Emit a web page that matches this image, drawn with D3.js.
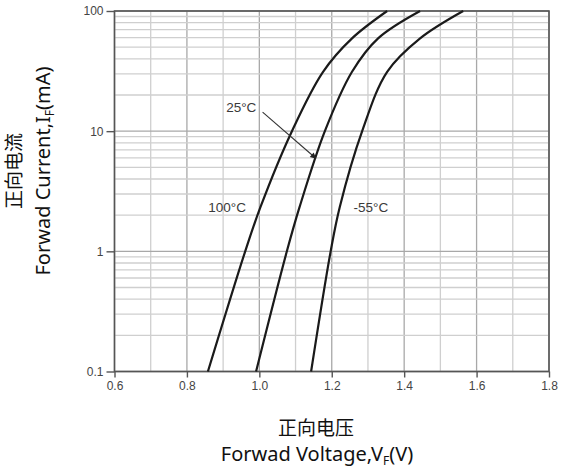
<!DOCTYPE html>
<html>
<head>
<meta charset="utf-8">
<script src="https://cdn.jsdelivr.net/npm/d3@7"></script>
<style>
body{margin:0;background:#fff;}
svg{display:block;}
.tick text{font-family:"Liberation Sans",Arial,sans-serif;font-size:12px;fill:#444;}
</style>
</head>
<body>
<div id="content"></div>
<script>
// data
const voltTicks = [0.6, 0.8, 1.0, 1.2, 1.4, 1.6, 1.8];
const currentTicks = [0.1, 1, 10, 100];
const current = [0.1, 1, 2.33, 10, 31.2, 59.2, 100];
const v100 = [0.858, 0.961, 1.003, 1.090, 1.176, 1.256, 1.353];
const v25 = [0.991, 1.076, 1.111, 1.181, 1.256, 1.328, 1.444];
const vm55 = [1.143, 1.197, 1.222, 1.284, 1.353, 1.444, 1.563];
const curveNames = ["100°C", "25°C", "-55°C"];

const w = 561, h = 471;
const padL = 114.5, padR = 549, padT = 11, padB = 371.5;

const svg = d3.select("#content").append("svg").attr("width", w).attr("height", h);

const xScale = d3.scaleLinear().domain([0.6, 1.8]).range([padL, padR]);
const yScale = d3.scaleLog().domain([0.1, 100]).range([padB, padT]);

// grid
const vGrid = d3.range(0.6, 1.8001, 0.1).map(d => +d.toFixed(2));
svg.append("g").selectAll("line").data(vGrid).enter().append("line")
  .attr("x1", d => xScale(d)).attr("x2", d => xScale(d))
  .attr("y1", padT).attr("y2", padB)
  .attr("stroke", (d, i) => i % 2 == 0 ? "#a8a8a8" : "#cfcfcf")
  .attr("stroke-width", 1.3);

let hGrid = [];
[0.1, 1, 10].forEach(dec => { for (let k = 1; k < 10; k++) hGrid.push(dec * k); });
hGrid.push(100);
svg.append("g").selectAll("line").data(hGrid).enter().append("line")
  .attr("x1", padL).attr("x2", padR)
  .attr("y1", d => yScale(d)).attr("y2", d => yScale(d))
  .attr("stroke", d => currentTicks.includes(+d.toPrecision(3)) ? "#a8a8a8" : "#cfcfcf")
  .attr("stroke-width", 1.3);

// frame
svg.append("rect").attr("x", padL).attr("y", padT)
  .attr("width", padR - padL).attr("height", padB - padT)
  .attr("fill", "none").attr("stroke", "#555").attr("stroke-width", 1.6);

// axes
const xAxis = d3.axisBottom(xScale).tickValues(voltTicks).tickSize(6).tickPadding(4).tickFormat(d3.format(".1f"));
const yAxis = d3.axisLeft(yScale).tickValues(currentTicks).tickSize(8).tickPadding(3).tickFormat(d => d);

svg.append("g").attr("transform", `translate(0,${padB})`).call(xAxis)
  .call(g => g.select(".domain").remove())
  .call(g => g.selectAll(".tick line").attr("stroke", "#555").attr("stroke-width", 1.4));
svg.append("g").attr("transform", `translate(${padL},0)`).call(yAxis)
  .call(g => g.select(".domain").remove())
  .call(g => g.selectAll(".tick line").attr("stroke", "#555").attr("stroke-width", 1.4));

// curves
const line = d3.line()
  .x(d => xScale(d[0])).y(d => yScale(d[1]))
  .curve(d3.curveCatmullRom.alpha(0.5));

[v100, v25, vm55].forEach(vs => {
  svg.append("path")
    .datum(vs.map((v, i) => [v, current[i]]))
    .attr("d", line)
    .attr("fill", "none").attr("stroke", "#1a1a1a").attr("stroke-width", 2.2);
});

// labels
const labelPos = [[0.911, 2.33], [0.95, 15.8], [1.308, 2.33]];
svg.append("g").selectAll("text").data(curveNames).enter().append("text")
  .attr("x", (d, i) => xScale(labelPos[i][0]))
  .attr("y", (d, i) => yScale(labelPos[i][1]) + 5)
  .attr("text-anchor", "middle")
  .style("font-family", "'Liberation Sans',Arial,sans-serif")
  .style("font-size", "13.5px").style("fill", "#3a3a3a")
  .text(d => d);

// arrow for 25°C
svg.append("defs").append("marker").attr("id", "arr")
  .attr("viewBox", "0 0 10 10").attr("refX", 9).attr("refY", 5)
  .attr("markerWidth", 8).attr("markerHeight", 6).attr("orient", "auto")
  .attr("markerUnits", "userSpaceOnUse")
  .append("path").attr("d", "M0,0L10,5L0,10z").attr("fill", "#222");
svg.append("line")
  .attr("x1", xScale(1.009)).attr("y1", yScale(14.4))
  .attr("x2", xScale(1.156)).attr("y2", yScale(5.95))
  .attr("stroke", "#333").attr("stroke-width", 1.1)
  .attr("marker-end", "url(#arr)");

// axis titles
const titleFont = "'Noto Sans','Noto Sans CJK SC',sans-serif";
svg.append("text").attr("text-anchor", "middle").attr("x", 316).attr("y", 435)
  .style("font-family", titleFont).style("font-size", "19px").style("fill", "#111")
  .text("正向电压");
const xt2 = svg.append("text").attr("text-anchor", "middle").attr("x", 317).attr("y", 461)
  .style("font-family", titleFont).style("font-size", "20px").style("fill", "#111");
xt2.append("tspan").text("Forwad Voltage,V");
xt2.append("tspan").attr("dy", 4).style("font-size", "12px").text("F");
xt2.append("tspan").attr("dy", -4).text("(V)");

const yt = svg.append("text").attr("text-anchor", "middle")
  .attr("transform", "translate(0,171) rotate(-90)")
  .style("font-family", titleFont).style("font-size", "20px").style("fill", "#111");
yt.append("tspan").attr("x", 0).attr("y", 21).style("font-size", "19px").text("正向电流");
const yt2 = yt.append("tspan").attr("x", 0).attr("y", 50);
yt2.append("tspan").text("Forwad Current,I");
yt2.append("tspan").attr("dy", 4).style("font-size", "12px").text("F");
yt2.append("tspan").attr("dy", -4).text("(mA)");
</script>
</body>
</html>
